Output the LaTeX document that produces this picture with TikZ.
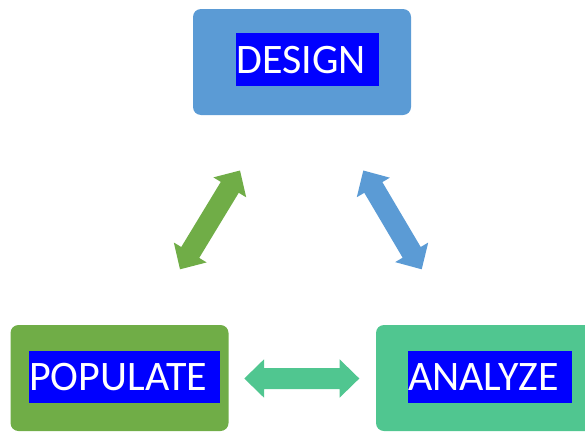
\documentclass[tikz,border=0pt]{standalone}
\usepackage{fontspec}
\setmainfont{Carlito}
\usetikzlibrary{calc}
\definecolor{dblue}{HTML}{5B9BD5}
\definecolor{pgreen}{HTML}{70AD47}
\definecolor{ateal}{HTML}{50C690}
\definecolor{hlblue}{HTML}{0000FF}
\newcommand\BlockArr[3][]{%
  \fill[#1] (#2)
    -- ($(#2)!19.7pt!(#3)!19.2pt!90:(#3)$)
    -- ($(#2)!19.7pt!(#3)!10.5pt!90:(#3)$)
    -- ($(#3)!19.7pt!(#2)!10.5pt!-90:(#2)$)
    -- ($(#3)!19.7pt!(#2)!19.2pt!-90:(#2)$)
    -- (#3)
    -- ($(#3)!19.7pt!(#2)!19.2pt!90:(#2)$)
    -- ($(#3)!19.7pt!(#2)!10.5pt!90:(#2)$)
    -- ($(#2)!19.7pt!(#3)!10.5pt!-90:(#3)$)
    -- ($(#2)!19.7pt!(#3)!19.2pt!-90:(#3)$)
    -- cycle;}
\begin{document}
\begin{tikzpicture}[x=1pt,y=-1pt,
  box/.style={rounded corners=8pt, draw=none, minimum width=218pt, minimum height=106pt, inner sep=0pt},
  hl/.style={fill=hlblue, text=white, inner sep=0pt, text height=40pt, text depth=12.7pt,
             font=\fontsize{42pt}{50pt}\selectfont, anchor=base west}]
\useasboundingbox (0,0) rectangle (585,431);
\clip (0,0) rectangle (585,431);
% boxes
\node[box, fill=dblue] (design) at (302,62) {};
\node[box, fill=pgreen] (populate) at (119.5,378) {};
\node[box, fill=ateal] (analyze) at (485,378) {};
% highlighted labels
\node[hl] (dlab) at (236,73.3) {DESIGN\kern13pt};
\node[hl] (plab) at (29,390.7) {POPULATE\kern12.5pt};
\node[hl] (alab) at (408,390.7) {ANALYZE\kern13pt};
% arrow end points
\coordinate (g1) at (180,269.3);
\coordinate (g2) at (240,170.5);
\coordinate (b1) at (363.3,170.5);
\coordinate (b2) at (421.7,269.3);
\coordinate (t1) at (244.3,378.5);
\coordinate (t2) at (359.3,378.5);
\BlockArr[pgreen]{g1}{g2}
\BlockArr[dblue]{b1}{b2}
\BlockArr[ateal]{t1}{t2}
\end{tikzpicture}
\end{document}
